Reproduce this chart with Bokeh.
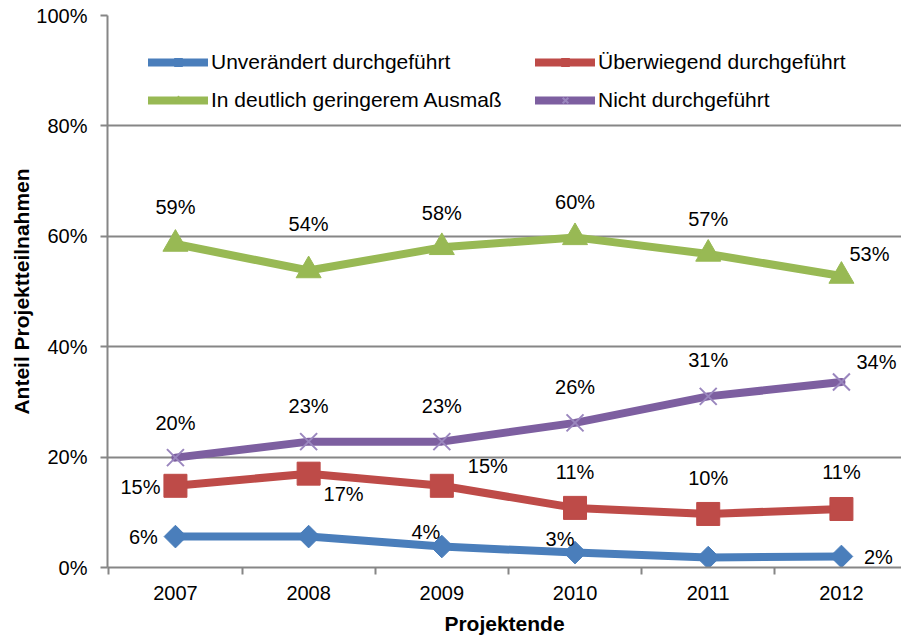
from bokeh.plotting import figure
from bokeh.models import (ColumnDataSource, FixedTicker, PrintfTickFormatter,
                          Legend, LegendItem, Range1d)
from bokeh.embed import file_html
from bokeh.resources import INLINE
from bokeh.core.properties import value

# ---------------- data ----------------
years = ["2007", "2008", "2009", "2010", "2011", "2012"]
unveraendert = [5.6, 5.6, 3.8, 2.7, 1.8, 2.0]
ueberwiegend = [14.8, 17.0, 14.8, 10.8, 9.7, 10.6]
geringer = [58.6, 53.8, 58.0, 59.8, 56.8, 52.8]
nicht = [19.9, 22.8, 22.8, 26.2, 31.0, 33.6]
series_names = ["Unverändert durchgeführt", "Überwiegend durchgeführt",
                "In deutlich geringerem Ausmaß", "Nicht durchgeführt"]
y_ticks = [0, 20, 40, 60, 80, 100]
x_title = "Projektende"
y_title = "Anteil Projektteilnahmen"

# ---------------- styles ----------------
FONT = "Liberation Sans"
GREY = "#868686"
colors = ["#4A7EBB", "#BE4B48", "#98B954", "#7D5FA0"]
marker_colors = ["#4A7EBB", "#BE4B48", "#98B954", "#9A86BE"]
markers = ["square", "square", "triangle", "x"]
marker_sizes = [16, 23, 25, 24]
marker_angles = [0.785398, 0, 0, 0]
# label offsets in screen pixels (dx, dy); None = no label shown
label_offsets = [
    [(-32, 0), None, (-16, -15), (-15, -14), None, (37, 1)],
    [(-35, 1), (35, 20), (46, -20), (0, -36), (0, -36), (0, -37)],
    [(0, -37), (0, -47), (0, -34), (0, -35), (0, -35), (28, -22)],
    [(0, -35), (0, -36), (0, -36), (0, -36), (0, -36), (35, -20)],
]

idx = list(range(len(years)))
all_series = [unveraendert, ueberwiegend, geringer, nicht]

p = figure(width=901, height=638, output_backend="svg", toolbar_location=None,
           x_range=Range1d(-0.51, 5.451), y_range=Range1d(0, 100),
           min_border_left=107, min_border_top=15, min_border_right=0,
           min_border_bottom=71)
p.outline_line_color = None
p.background_fill_color = "white"
p.border_fill_color = "white"

# grid
p.xgrid.visible = False
p.ygrid.ticker = FixedTicker(ticks=[t for t in y_ticks if t > 0])
p.ygrid.grid_line_color = GREY
p.ygrid.grid_line_width = 2

# y axis
ya = p.yaxis[0]
ya.ticker = FixedTicker(ticks=y_ticks)
ya.formatter = PrintfTickFormatter(format="%d%%")
ya.axis_line_color = GREY
ya.axis_line_width = 2
ya.major_tick_line_color = GREY
ya.major_tick_line_width = 2
ya.major_tick_in = 0
ya.major_tick_out = 7
ya.minor_tick_line_color = None
ya.major_label_text_font = FONT
ya.major_label_text_font_size = "20px"
ya.major_label_text_color = "black"
ya.major_label_standoff = 13
ya.axis_label = y_title
ya.axis_label_text_font = FONT
ya.axis_label_text_font_size = "21px"
ya.axis_label_text_font_style = "bold"
ya.axis_label_text_color = "black"
ya.axis_label_standoff = 0

# x axis
xa = p.xaxis[0]
xa.ticker = FixedTicker(ticks=idx, minor_ticks=[i - 0.5 for i in idx] + [len(idx) - 0.5])
xa.major_label_overrides = {i: years[i] for i in idx}
xa.axis_line_color = GREY
xa.axis_line_width = 2
xa.major_tick_line_color = None
xa.major_tick_in = 0
xa.major_tick_out = 0
xa.minor_tick_line_color = GREY
xa.minor_tick_line_width = 2
xa.minor_tick_in = 0
xa.minor_tick_out = 7
xa.major_label_text_font = FONT
xa.major_label_text_font_size = "20px"
xa.major_label_text_color = "black"
xa.major_label_standoff = 11
xa.axis_label = x_title
xa.axis_label_text_font = FONT
xa.axis_label_text_font_size = "21px"
xa.axis_label_text_font_style = "bold"
xa.axis_label_text_color = "black"
xa.axis_label_standoff = 9

# series
legend_parts = []
for k, vals in enumerate(all_series):
    lr = p.line(idx, vals, line_color=colors[k], line_width=8,
                line_join="round", line_cap="round")
    mr = p.scatter(idx, vals, marker=markers[k], size=marker_sizes[k],
                   angle=marker_angles[k],
                   fill_color=marker_colors[k], line_color=marker_colors[k],
                   line_width=2 if markers[k] == "x" else 1)
    legend_parts.append((series_names[k], [lr, mr]))

# data labels
lx, ly, lt, ldx, ldy = [], [], [], [], []
for k, vals in enumerate(all_series):
    for i, v in enumerate(vals):
        off = label_offsets[k][i]
        if off is None:
            continue
        lx.append(i)
        ly.append(v)
        lt.append(f"{round(v)}%")
        ldx.append(off[0])
        ldy.append(off[1])
lsrc = ColumnDataSource(dict(x=lx, y=ly, text=lt, dx=ldx, dy=ldy))
p.text(x="x", y="y", text="text", x_offset="dx", y_offset="dy", source=lsrc,
       text_font=value(FONT), text_font_size="20px", text_color="black",
       text_align="center", text_baseline="middle")

# legends (two columns)
def make_legend(items, loc):
    lg = Legend(items=[LegendItem(label=n, renderers=r) for n, r in items],
                location=loc, orientation="vertical",
                glyph_width=60, glyph_height=20, label_height=20,
                label_standoff=3, spacing=14, padding=0, margin=0,
                border_line_color=None, background_fill_alpha=0,
                label_text_font=FONT, label_text_font_size="21px",
                label_text_color="black")
    return lg

p.add_layout(make_legend([legend_parts[0], legend_parts[2]], (41, 455)), "center")
p.add_layout(make_legend([legend_parts[1], legend_parts[3]], (428, 455)), "center")

open("out.html", "w").write(file_html(p, INLINE))
